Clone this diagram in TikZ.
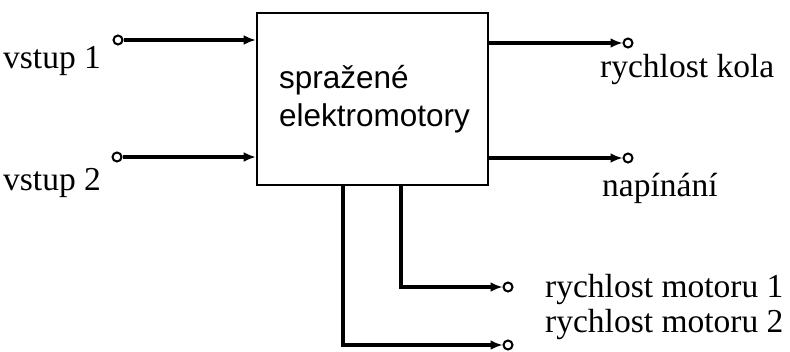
\documentclass[tikz,border=0pt]{standalone}
\usepackage{fontspec}
\setmainfont{Liberation Serif}
\newfontfamily\boxfont{Liberation Sans}
\usetikzlibrary{arrows.meta}
\begin{document}
\begin{tikzpicture}[x=1pt,y=-1pt,
  term/.style={circle,draw,line width=2pt,fill=white,minimum size=9pt,inner sep=0pt},
  arr/.style={line width=3.6pt,-{Latex[length=12pt,width=10pt]}},
  lbl/.style={anchor=base west,inner sep=0pt,font=\fontsize{33.5}{38}\selectfont},
  mainbox/.style={draw,line width=2.6pt,minimum width=231pt,minimum height=172pt,inner sep=0pt,align=left,font=\boxfont\fontsize{31.5}{38}\selectfont}]
\useasboundingbox (0,0) rectangle (790,351);
\node[mainbox] (box) at (372.5,99) {\hspace*{4pt}spražené\\\hspace*{4pt}elektromotory};
% inputs
\node[term] (in1) at (118,40) {};
\node[term] (in2) at (117,157) {};
\draw[arr] (in1) -- (in1 -| box.west);
\draw[arr] (in2) -- (in2 -| box.west);
% outputs right
\node[term] (out1) at (628,43) {};
\node[term] (out2) at (628,158) {};
\draw[arr] (out1 -| box.east) -- (out1);
\draw[arr] (out2 -| box.east) -- (out2);
% bottom outputs
\coordinate (b2top) at (343,185);
\coordinate (b1top) at (401,185);
\node[term] (m1) at (508,287) {};
\node[term] (m2) at (508,345) {};
\draw[arr] (b1top) |- (m1);
\draw[arr] (b2top) |- (m2);
% labels
\node[lbl] (l1) at (3,68) {vstup 1};
\node[lbl] (l2) at (3,190) {vstup 2};
\node[lbl] (l3) at (600,77) {rychlost kola};
\node[lbl] (l4) at (602,196) {napínání};
\node[lbl] (l5) at (545,297) {rychlost motoru 1};
\node[lbl] (l6) at (545,332) {rychlost motoru 2};
\end{tikzpicture}
\end{document}
